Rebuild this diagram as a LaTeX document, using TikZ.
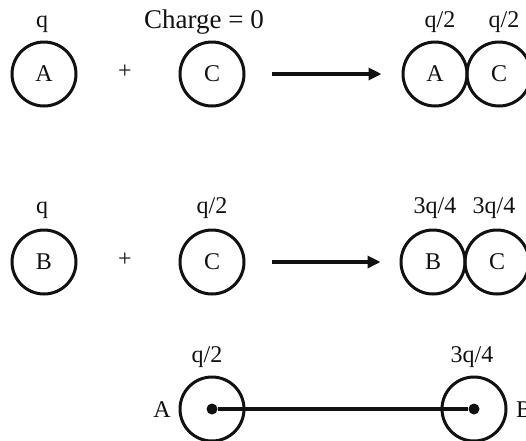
\documentclass[tikz,border=0pt]{standalone}
\usepackage{fontspec}
\setmainfont{Liberation Serif}
\usepackage{tikz}
\usetikzlibrary{arrows.meta}
\definecolor{kalem}{HTML}{111111}

\begin{document}
\begin{tikzpicture}[x=1pt,y=-1pt,
  yazi/.style={font=\fontsize{24}{28}\selectfont,text=kalem},
  kure/.style={yazi,circle,draw=kalem,line width=3pt,minimum size=64pt,inner sep=0pt},
  etiket/.style={yazi,anchor=base,inner sep=0pt},
  ok/.style={draw=kalem,line width=3.2pt,-{Triangle[length=13pt,width=12pt]}},
  nokta/.style={circle,fill=kalem,minimum size=11pt,inner sep=0pt}]
\useasboundingbox (0,0) rectangle (526,440);
% birinci satir: A ile C temas
\node[kure] (a1) at (44,74) {A};
\node[yazi] (arti1) at (125,72) {+};
\node[kure] (c1) at (212,74) {C};
\node[kure] (a2) at (435,74) {A};
\node[kure] (c2) at (499,74) {C};
\draw[ok,shorten <=26pt,shorten >=20pt] (c1.east) -- (a2.west);
\node[etiket] (qa1) at (42,27) {q};
\node[etiket,font=\fontsize{27}{30}\selectfont] (qc1) at (204,28) {Charge = 0};
\node[etiket] (qa2) at (440,27) {q/2};
\node[etiket] (qc2) at (504,27) {q/2};
% ikinci satir: B ile C temas
\node[kure] (b1) at (44,262) {B};
\node[yazi] (arti2) at (125,260) {+};
\node[kure] (c3) at (212,262) {C};
\node[kure] (b2) at (433,262) {B};
\node[kure] (c4) at (497,262) {C};
\draw[ok,shorten <=26pt,shorten >=19pt] (c3.east) -- (b2.west);
\node[etiket] (qb1) at (42,213) {q};
\node[etiket] (qc3) at (212,213) {q/2};
\node[etiket] (qb2) at (435,213) {3q/4};
\node[etiket] (qc4) at (494,213) {3q/4};
% son durum: A ve B ayri
\node[kure] (a3) at (212,409) {};
\node[kure] (b3) at (474,409) {};
\node[nokta] (na) at (a3.center) {};
\node[nokta] (nb) at (b3.center) {};
\draw[draw=kalem,line width=3.2pt] (na) -- (nb);
\node[yazi] (ya) at (162,410) {A};
\node[yazi] (yb) at (524,410) {B};
\node[etiket] (qa3) at (207,362) {q/2};
\node[etiket] (qb3) at (472,362) {3q/4};
\end{tikzpicture}
\end{document}
